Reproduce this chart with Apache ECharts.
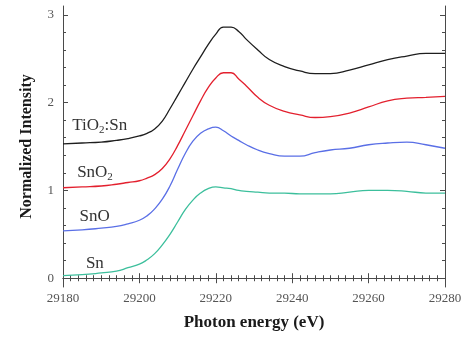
<!DOCTYPE html>
<html>
<head>
<meta charset="utf-8">
<script src="https://cdn.jsdelivr.net/npm/echarts@6/dist/echarts.min.js"></script>
<style>
html,body{margin:0;padding:0;background:#fff;}
#chart{width:474px;height:337px;}
</style>
</head>
<body>
<div id="chart"></div>
<script>
// Photon energy grid (eV)
var energy = [29180, 29185, 29190, 29194, 29197, 29200, 29202, 29204, 29206, 29208, 29210, 29212, 29214, 29216, 29218, 29220, 29222, 29224, 29226, 29228, 29231, 29234, 29238, 29242, 29246, 29250, 29255, 29260, 29265, 29270, 29275, 29280];
// Normalized intensity for each sample
var tio2Sn = [1.53, 1.54, 1.55, 1.57, 1.59, 1.62, 1.65, 1.70, 1.79, 1.93, 2.08, 2.23, 2.38, 2.52, 2.66, 2.78, 2.86, 2.86, 2.81, 2.72, 2.60, 2.49, 2.41, 2.36, 2.33, 2.33, 2.37, 2.43, 2.49, 2.53, 2.56, 2.56];
var snO2   = [1.03, 1.04, 1.05, 1.07, 1.09, 1.11, 1.14, 1.18, 1.25, 1.36, 1.51, 1.68, 1.85, 2.02, 2.17, 2.28, 2.34, 2.34, 2.27, 2.19, 2.06, 1.97, 1.90, 1.86, 1.83, 1.84, 1.88, 1.95, 2.02, 2.05, 2.06, 2.07];
var snO    = [0.54, 0.55, 0.57, 0.59, 0.62, 0.66, 0.71, 0.79, 0.90, 1.05, 1.24, 1.42, 1.56, 1.65, 1.70, 1.72, 1.68, 1.62, 1.57, 1.52, 1.46, 1.42, 1.39, 1.39, 1.43, 1.46, 1.48, 1.52, 1.54, 1.55, 1.52, 1.48];
var sn     = [0.03, 0.04, 0.06, 0.08, 0.12, 0.16, 0.21, 0.28, 0.38, 0.50, 0.64, 0.78, 0.89, 0.97, 1.02, 1.04, 1.03, 1.02, 1.00, 0.99, 0.98, 0.97, 0.97, 0.96, 0.96, 0.96, 0.98, 1.00, 1.00, 0.99, 0.97, 0.97];

var yMajorTicks = [0, 1, 2, 3];
var yMinorTicks = [0.2, 0.4, 0.6, 0.8, 1.2, 1.4, 1.6, 1.8, 2.2, 2.4, 2.6, 2.8];

var seriesNames = ['TiO2:Sn', 'SnO2', 'SnO', 'Sn'];
var seriesColors = ['#1e1e1e', '#e3202e', '#5a6fe6', '#3cbf9c'];
// label anchors in data coordinates (left edge, vertical centre)
var labelRich = ['{n|TiO}{s|2}{n|:Sn}', '{n|SnO}{s|2}', '{n|SnO}', '{n|Sn}'];
var labelX = [29182.4, 29183.7, 29184.3, 29186.0];
var labelY = [1.74, 1.20, 0.70, 0.17];

var FONT = '"Liberation Serif", "Times New Roman", serif';
var AX = '#4a4a4a';

var chart = echarts.init(document.getElementById('chart'));

function pairs(ys) { return energy.map(function (x, i) { return [x, ys[i]]; }); }

function xAx(pos, labels) {
  return {
    type: 'value', position: pos, min: 29180, max: 29280, interval: 20,
    name: labels ? 'Photon energy (eV)' : '', nameLocation: 'middle', nameGap: 27,
    nameTextStyle: { fontFamily: FONT, fontWeight: 'bold', fontSize: 17, color: '#1a1a1a' },
    axisLine: { show: true, lineStyle: { color: AX, width: 1 } },
    axisTick: { show: true, inside: true, length: 5, lineStyle: { color: AX } },
    minorTick: { show: true, splitNumber: 10, length: 3, lineStyle: { color: AX } },
    splitLine: { show: false }, minorSplitLine: { show: false },
    axisLabel: { show: labels, fontFamily: FONT, fontSize: 13, color: '#555', margin: 5,
      formatter: function (v) { return String(v); } }
  };
}
function yAx(pos, major, labels) {
  return {
    type: 'value', position: pos, min: -0.1, max: 3.1,
    name: labels ? 'Normalized Intensity' : '', nameLocation: 'middle', nameGap: 28,
    nameTextStyle: { fontFamily: FONT, fontWeight: 'bold', fontSize: 16, color: '#1a1a1a' },
    axisLine: { show: major, lineStyle: { color: AX, width: 1 } },
    axisTick: { show: true, inside: true, length: major ? 5 : 3, customValues: major ? yMajorTicks : yMinorTicks, lineStyle: { color: AX } },
    splitLine: { show: false },
    axisLabel: { show: labels, customValues: yMajorTicks, fontFamily: FONT, fontSize: 13, color: '#555', margin: 9 }
  };
}

var series = [tio2Sn, snO2, snO, sn].map(function (ys, i) {
  return {
    name: seriesNames[i], type: 'line', xAxisIndex: 0, yAxisIndex: 0,
    data: pairs(ys), smooth: 0.5, showSymbol: false, symbol: 'none',
    lineStyle: { color: seriesColors[i], width: 1.3 }, silent: true, animation: false
  };
});

chart.setOption({
  animation: false,
  backgroundColor: '#fff',
  grid: { left: 63, right: 29, top: 6, bottom: 50 },
  xAxis: [xAx('bottom', true), xAx('top', false)],
  yAxis: [yAx('left', true, true), yAx('left', false, false), yAx('right', true, false), yAx('right', false, false)],
  series: series
});

var graphics = labelRich.map(function (txt, i) {
  var p = chart.convertToPixel({ xAxisIndex: 0, yAxisIndex: 0 }, [labelX[i], labelY[i]]);
  return {
    type: 'text', x: p[0], y: p[1],
    style: {
      text: txt, align: 'left', verticalAlign: 'middle', fill: '#333',
      rich: {
        n: { fontFamily: FONT, fontSize: 17, fill: '#333' },
        s: { fontFamily: FONT, fontSize: 11, fill: '#333', padding: [9, 0, 0, 0] }
      }
    }
  };
});
chart.setOption({ graphic: graphics });
</script>
</body>
</html>
